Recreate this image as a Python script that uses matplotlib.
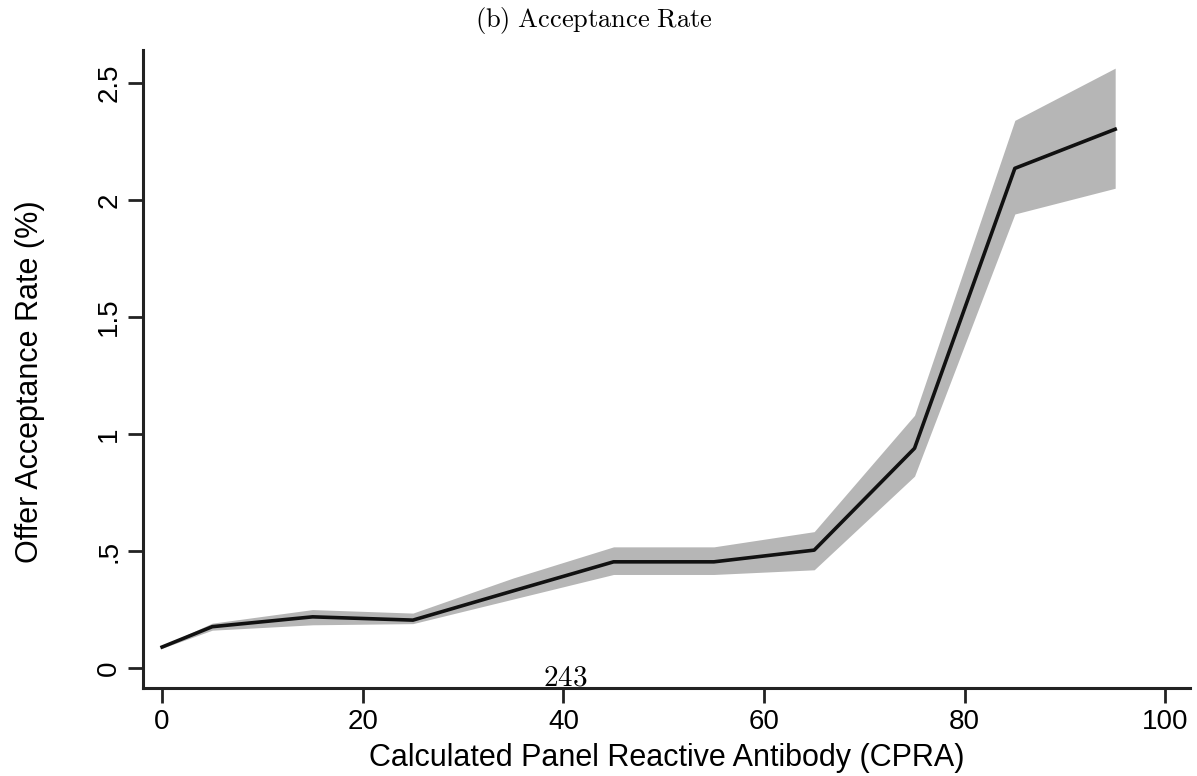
import matplotlib.pyplot as plt

plt.rcParams['font.family'] = ['Liberation Sans', 'DejaVu Sans']
plt.rcParams['mathtext.fontset'] = 'cm'

# CPRA bins and offer acceptance rate (%) with confidence band
cpra = [0, 5, 15, 25, 35, 45, 55, 65, 75, 85, 95]
taxa = [0.09, 0.177, 0.219, 0.205, 0.33, 0.454, 0.454, 0.504, 0.939, 2.135, 2.302]
banda_inf = [0.085, 0.162, 0.185, 0.19, 0.295, 0.40, 0.40, 0.42, 0.82, 1.94, 2.05]
banda_sup = [0.095, 0.192, 0.25, 0.235, 0.385, 0.518, 0.518, 0.583, 1.08, 2.34, 2.563]

xticks = [0, 20, 40, 60, 80, 100]
yticks = [0, 0.5, 1, 1.5, 2, 2.5]
ytick_labels = ['0', '.5', '1', '1.5', '2', '2.5']

fig = plt.figure(figsize=(11.97, 7.76), dpi=100)
ax = fig.add_axes([0.1195, 0.1134, 0.875, 0.822])

ax.fill_between(cpra, banda_inf, banda_sup, color='#b6b6b6', linewidth=0)
ax.plot(cpra, taxa, color='#111111', linewidth=2.6)

ax.set_xlim(-1.9, 102.5)
ax.set_ylim(-0.085, 2.64)
ax.set_xticks(xticks)
ax.set_yticks(yticks)
ax.set_yticklabels(ytick_labels, rotation=90, va='center')
ax.tick_params(axis='both', labelsize=20, length=11, width=2, color='#222222', pad=4)

for lado in ['top', 'right']:
    ax.spines[lado].set_visible(False)
for lado in ['left', 'bottom']:
    ax.spines[lado].set_linewidth(2.2)
    ax.spines[lado].set_color('#222222')

ax.set_xlabel('Calculated Panel Reactive Antibody (CPRA)', fontsize=22, labelpad=6)
ax.set_ylabel('Offer Acceptance Rate (%)', fontsize=22)
ax.yaxis.set_label_coords(-0.094, 0.48)

fig.text(0.496, 0.973, r'$\mathrm{(b)\ Acceptance\ Rate}$', fontsize=19,
         ha='center', va='center')
fig.text(0.472, 0.117, r'$\mathrm{243}$', fontsize=21, ha='center', va='baseline')

plt.savefig('out.png', dpi=100)
plt.close()
